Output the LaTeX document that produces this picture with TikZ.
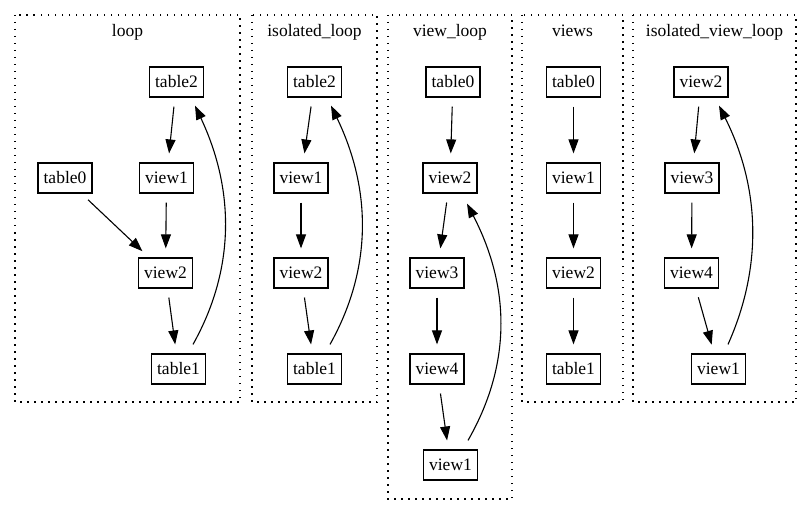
\documentclass[tikz,border=0pt]{standalone}
\usepackage{fontspec}
\setmainfont{Liberation Serif}
\usetikzlibrary{arrows.meta}
\tikzset{
    every node/.style={font=\fontsize{17.5}{21}\selectfont},
    tbl/.style={rectangle,draw,line width=1.2pt,minimum width=54pt,minimum height=30pt,inner sep=2pt},
    cluster/.style={draw,line width=1.3pt,dash pattern=on 1.5pt off 5.5pt},
    clabel/.style={anchor=base,inner sep=0pt},
    edge/.style={draw,line width=1.1pt,-{Triangle[length=14pt,width=10pt]},shorten <=9pt,shorten >=9pt},
    backedge/.style={draw,line width=1.1pt,-{Triangle[length=14pt,width=10pt]}}
}

\begin{document}
\begin{tikzpicture}[x=1pt,y=-1pt]
\useasboundingbox (0,0) rectangle (812,516);
\foreach \xa/\xb/\yb/\nm/\txt in {15/240/402/loop/loop,
        252/377/402/iloop/isolated\_loop,
        388/512/499/vloop/view\_loop,
        522/623/402/views/views,
        633/796/402/ivloop/isolated\_view\_loop}{
    \draw[cluster] (\xa,15) rectangle (\xb,\yb);
    \node[clabel] (lbl-\nm) at ({(\xa+\xb)/2},37) {\txt};
}
% loop
\node[tbl] (L-t2) at (176.5,82) {table2};
\node[tbl] (L-t0) at (65,178) {table0};
\node[tbl] (L-v1) at (166.5,178) {view1};
\node[tbl] (L-v2) at (165.5,273) {view2};
\node[tbl] (L-t1) at (178.5,369) {table1};
% isolated_loop
\node[tbl] (I-t2) at (314.5,82) {table2};
\node[tbl] (I-v1) at (301,178) {view1};
\node[tbl] (I-v2) at (301,273) {view2};
\node[tbl] (I-t1) at (314.5,369) {table1};
% view_loop
\node[tbl] (V-t0) at (453,82) {table0};
\node[tbl] (V-v2) at (450,178) {view2};
\node[tbl] (V-v3) at (437,273) {view3};
\node[tbl] (V-v4) at (437,369) {view4};
\node[tbl] (V-v1) at (450.5,465) {view1};
% views
\node[tbl] (W-t0) at (573.5,82) {table0};
\node[tbl] (W-v1) at (573.5,178) {view1};
\node[tbl] (W-v2) at (573.5,273) {view2};
\node[tbl] (W-t1) at (573.5,369) {table1};
% isolated_view_loop
\node[tbl] (X-v2) at (701,82) {view2};
\node[tbl] (X-v3) at (692,178) {view3};
\node[tbl] (X-v4) at (691.5,273) {view4};
\node[tbl] (X-v1) at (718.5,369) {view1};

\foreach \a/\b in {L-t2/L-v1,L-t0/L-v2,L-v1/L-v2,L-v2/L-t1,
        I-t2/I-v1,I-v1/I-v2,I-v2/I-t1,
        V-t0/V-v2,V-v2/V-v3,V-v3/V-v4,V-v4/V-v1,
        W-t0/W-v1,W-v1/W-v2,W-v2/W-t1,
        X-v2/X-v3,X-v3/X-v4,X-v4/X-v1}
    \draw[edge] (\a) -- (\b);

\draw[backedge] ([xshift=14.5pt,yshift=9pt]L-t1.north) .. controls +(42,-75) and +(40,85) .. ([xshift=18.5pt,yshift=-8pt]L-t2.south);
\draw[backedge] ([xshift=15.5pt,yshift=9pt]I-t1.north) .. controls +(42,-75) and +(41,85) .. ([xshift=16.5pt,yshift=-8pt]I-t2.south);
\draw[backedge] ([xshift=17.5pt,yshift=9pt]V-v1.north) .. controls +(43,-75) and +(44,85) .. ([xshift=17pt,yshift=-10pt]V-v2.south);
\draw[backedge] ([xshift=9.5pt,yshift=9pt]X-v1.north) .. controls +(33.5,-75) and +(42.5,85) .. ([xshift=18pt,yshift=-8pt]X-v2.south);
\end{tikzpicture}
\end{document}
